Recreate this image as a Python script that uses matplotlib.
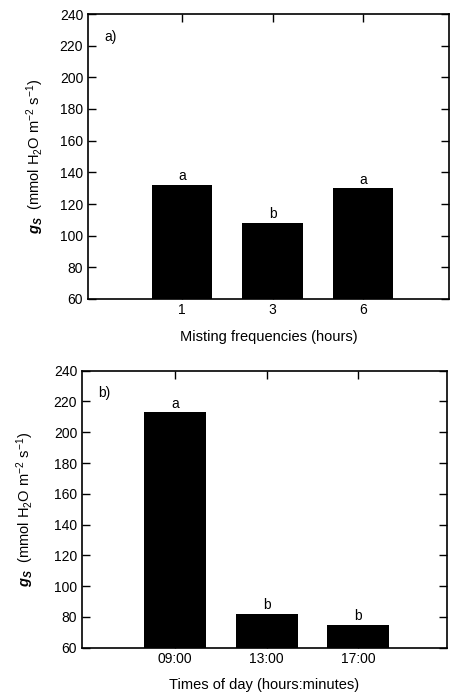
import matplotlib
matplotlib.use("Agg")
import matplotlib.pyplot as plt

plt.rcParams['font.family'] = ['Liberation Sans', 'DejaVu Sans']
plt.rcParams['mathtext.fontset'] = 'custom'
plt.rcParams['mathtext.rm'] = 'Liberation Sans'
plt.rcParams['mathtext.it'] = 'Liberation Sans:italic'
plt.rcParams['mathtext.bf'] = 'Liberation Sans:bold:italic'

# Panel a
freq_labels = ["1", "3", "6"]
freq_values = [132, 108, 130]
freq_letters = ["a", "b", "a"]

# Panel b
time_labels = ["09:00", "13:00", "17:00"]
time_values = [213, 82, 75]
time_letters = ["a", "b", "b"]

yticks = [60, 80, 100, 120, 140, 160, 180, 200, 220, 240]
ylabel = r"$\mathbf{g}_\mathbf{S}$  (mmol H$_2$O m$^{-2}$ s$^{-1}$)"

W, H = 450, 694
fig = plt.figure(figsize=(W / 100, H / 100), dpi=100)

def panel(rect, labels, values, letters, xlabel, tag, xlim, width, ylpad):
    ax = fig.add_axes(rect)
    x = list(range(len(labels)))
    ax.bar(x, values, width=width, bottom=0, color='black')
    for xi, v, l in zip(x, values, letters):
        ax.text(xi, v + 1, l, ha='center', va='bottom', fontsize=10)
    ax.set_ylim(60, 240)
    ax.set_xlim(*xlim)
    ax.set_yticks(yticks)
    ax.set_xticks(x)
    ax.set_xticklabels(labels)
    ax.tick_params(direction='in', top=True, right=True, labelsize=10, length=6, width=1)
    ax.tick_params(axis='x', pad=3)
    ax.set_xlabel(xlabel, fontsize=10.5, labelpad=9)
    ax.set_ylabel(ylabel, fontsize=10.5, labelpad=ylpad)
    ax.text(0.045, 0.92, tag, transform=ax.transAxes, fontsize=10, ha='left', va='center')
    for s in ax.spines.values():
        s.set_linewidth(1.2)
    return ax

panel([88 / W, 1 - 299 / H, 361 / W, 285 / H], freq_labels, freq_values, freq_letters,
      "Misting frequencies (hours)", "a)", (-1.04, 2.95), 0.67, 10)
panel([82 / W, 1 - 647.7 / H, 365 / W, 277 / H], time_labels, time_values, time_letters,
      "Times of day (hours:minutes)", "b)", (-1.02, 2.97), 0.68, 13)

fig.savefig("out.png", dpi=100)
